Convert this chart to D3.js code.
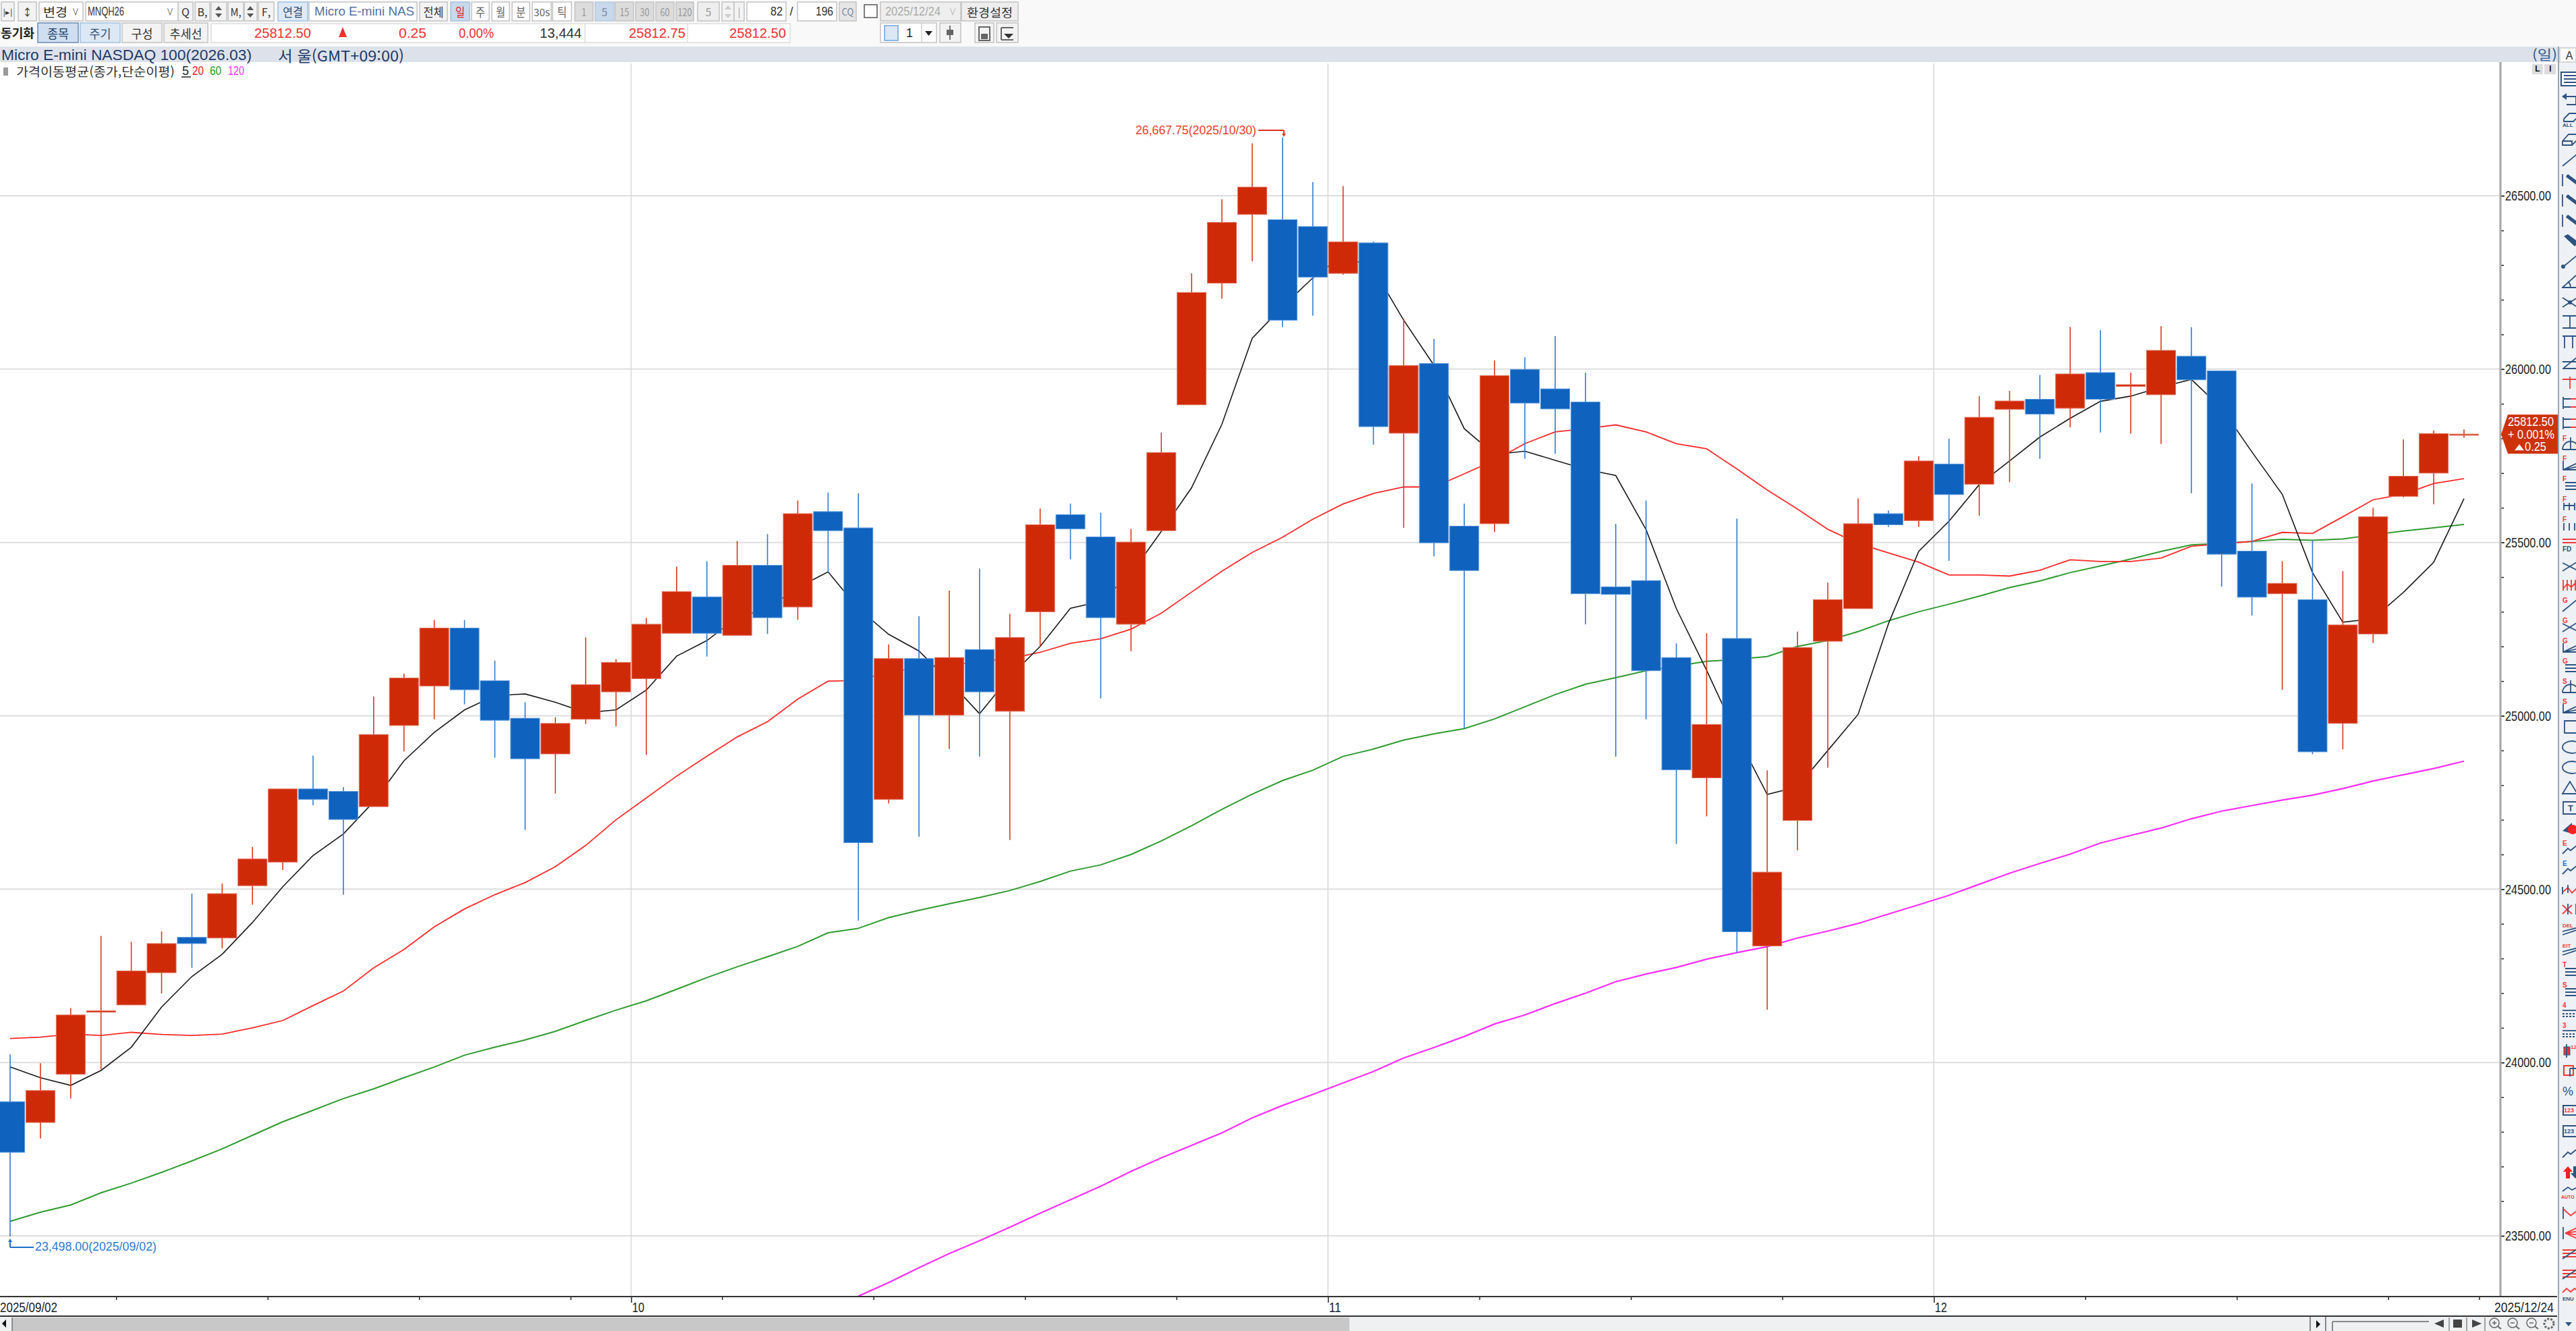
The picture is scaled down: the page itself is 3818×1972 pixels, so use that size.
<!DOCTYPE html>
<html lang="ko">
<head>
<meta charset="utf-8">
<title>Micro E-mini NASDAQ 100</title>
<script src="https://d3js.org/d3.v7.min.js"></script>
<style>
html,body{margin:0;padding:0;background:#fff;overflow:hidden}
svg{display:block}
text{font-family:"Liberation Sans","Noto Sans CJK KR",sans-serif}
.ko{font-family:"Noto Sans CJK KR","Liberation Sans",sans-serif}
</style>
</head>
<body>
<svg id="c" width="3818" height="1972" viewBox="0 0 3818 1972"></svg>
<script>
// ---------- chart data ----------
const opens  = [23887,23827,23966,24145,24166,24259,24361,24359,24510,24578,24789,24782,24738,24972,25086,25253,25101,24993,24890,24990,25069,25107,25238,25343,25232,25434,25314,25589,25542,
24759,25165,25002,25191,25013,25300,25580,25516,25264,25534,25897,26248,26446,26431,26411,26276,26364,25815,26016,25547,25554,25999,25943,25905,25372,25390,25168,24821,25223,24336,24698,25215,25309,25583,25563,25726,25668,25884,25913,25887,25990,25950,25926,26037,25995,25475,25352,25335,24978,25236,25633,25700,25809];
const highs  = [24023,23998,24157,24365,24348,24378,24487,24516,24622,24789,24885,24794,25056,25122,25276,25276,25159,25039,24996,25226,25163,25283,25430,25446,25504,25524,25621,25644,25642,
25206,25287,25361,25425,25294,25598,25612,25586,25539,25817,26276,26490,26651,26667.75,26539,26528,26368,26145,26087,25612,26025,26034,26095,25990,25554,25621,25209,25238,25569,24843,25243,25384,25627,25592,25749,25799,25922,25937,25983,26122,26112,25990,26124,26121,25995,25670,25446,25506,25417,25600,25797,25823,25826];
const lows   = [23498,23781,23896,23980,24166,24199,24273,24329,24455,24555,24742,24484,24738,24897,24990,25033,24879,24671,24776,24976,24970,24887,25238,25171,25232,25236,25277,25413,24409,
24747,24651,24904,24882,24642,25200,25451,25050,25186,25534,25897,26203,26311,26121,26154,26272,25782,25542,25460,24963,25530,25741,25756,25264,24882,24990,24630,24710,24316,24152,24612,24850,25309,25545,25545,25447,25577,25674,25741,25832,25817,25814,25784,25642,25373,25289,25075,24889,24903,25210,25630,25610,25802];
const closes = [23741,23919,24137,24149,24264,24343,24343,24487,24587,24789,24759,24701,24946,25109,25253,25075,24987,24876,24978,25090,25154,25264,25358,25238,25434,25283,25583,25534,24634,
25165,25002,25168,25069,25226,25551,25539,25283,25501,25759,26221,26423,26525,26141,26265,26367,25834,26010,25499,25419,25981,25902,25885,25352,25350,25130,24844,24975,24377,24549,25197,25335,25554,25551,25735,25638,25861,25908,25870,25986,25913,25955,26054,25969,25466,25342,25382,24896,25262,25574,25691,25814,25812.5];

const ma5 = [23987,23956,23934,23977,24044,24160,24248,24312,24404,24507,24597,24659,24752,24870,24952,25017,25058,25063,25039,25009,25017,25074,25172,25217,25284,25309,25370,25415,25309,
25235,25187,25100,25006,25113,25200,25310,25330,25410,25532,25658,25841,26089,26180,26263,26329,26289,26141,26011,25828,25754,25763,25737,25711,25693,25537,25309,25131,24943,24773,24795,24900,25004,25265,25474,25561,25667,25735,25804,25858,25907,25922,25948,25970,25887,25761,25639,25413,25270,25280,25356,25443,25626];
const ma20 = [24069,24073,24082,24078,24087,24081,24078,24082,24100,24121,24164,24206,24273,24326,24391,24443,24484,24519,24565,24626,24700,24763,24826,24883,24939,24983,25048,25100,25102,
25126,25139,25145,25157,25165,25183,25209,25222,25250,25296,25357,25417,25471,25515,25567,25611,25641,25660,25660,25698,25737,25785,25819,25828,25839,25819,25785,25770,25712,25651,25596,25538,25497,25470,25443,25406,25406,25403,25420,25450,25445,25445,25455,25489,25496,25503,25529,25526,25574,25623,25639,25670,25684];
const ma60 = [23542,23568,23589,23624,23652,23683,23716,23751,23790,23829,23862,23896,23924,23956,23987,24021,24044,24065,24090,24121,24151,24178,24211,24245,24276,24305,24335,24374,24387,
24418,24439,24458,24476,24496,24522,24552,24570,24600,24639,24683,24730,24774,24813,24843,24883,24904,24930,24948,24963,24991,25026,25061,25091,25110,25130,25143,25157,25163,25171,25200,25217,25243,25274,25300,25322,25345,25370,25389,25413,25432,25452,25474,25493,25497,25503,25509,25506,25510,25522,25533,25542,25552];
const ma120 = [null,null,null,null,null,null,null,null,null,null,null,null,null,null,null,null,null,null,null,null,null,null,null,null,null,null,null,null,23326,
23365,23408,23449,23486,23525,23565,23604,23643,23686,23725,23761,23797,23840,23876,23908,23941,23974,24013,24043,24075,24111,24137,24170,24200,24233,24255,24274,24298,24317,24334,24359,24379,24401,24428,24455,24482,24514,24546,24574,24601,24633,24655,24676,24703,24725,24741,24757,24771,24790,24812,24830,24848,24869];

const priceMajor = [26500,26000,25500,25000,24500,24000,23500];
const priceMinor = d3.range(23500,26501,100);
const weekTicks  = [3.5,8.5,13.5,18.5,23.5,28.5,33.5,38.5,48.5,53.5,58.5,68.5,73.5,78.5,81.5];
const monthTicks = [20.5,43.5,63.5];
const monthNames = ['10','11','12'];
const firstDate = '2025/09/02', lastDate = '2025/12/24';
const highNote = '26,667.75(2025/10/30)', lowNote = '23,498.00(2025/09/02)';
const lastTag = ['25812.50','+ 0.001%','0.25'];

// ---------- colours ----------
const RED='#cf2a08', REDL='#e0705a', BLUE='#0f62bd', BLUEL='#5c9ade', WICKR='#d6391a', WICKB='#2f7ad0';
const NAVY='#1f3a68', ICON='#2f5380', ICONR='#f03a3a';

// ---------- scales ----------
const W=3818,H=1972, chartTop=92, axisY=1921, axisX=3706;
const x = d3.scaleLinear().domain([0,81]).range([15,3652]);
const y = d3.scaleLinear().domain([23500,26500]).range([1831,290]);
const svg = d3.select('#c');
svg.append('rect').attr('width',W).attr('height',H).attr('fill','#fff');

// helper: text squeezed to a measured width
function T(p,str,x0,w,yc,size,fill,cls,anchor){
  const t=p.append('text').attr('x',x0).attr('y',yc).attr('dominant-baseline','central')
    .attr('font-size',size).attr('fill',fill).text(str);
  if(cls) t.attr('class',cls);
  if(anchor) t.attr('text-anchor',anchor);
  if(w) t.attr('textLength',w).attr('lengthAdjust','spacingAndGlyphs');
  return t;
}
function L(p,x1,y1,x2,y2,c,w){return p.append('line').attr('x1',x1).attr('y1',y1).attr('x2',x2).attr('y2',y2).attr('stroke',c).attr('stroke-width',w||1);}
function R(p,x0,y0,w,h,f,s,sw){return p.append('rect').attr('x',x0).attr('y',y0).attr('width',w).attr('height',h).attr('fill',f).attr('stroke',s||'none').attr('stroke-width',sw||1);}

// ---------- grid ----------
const grid=svg.append('g');
grid.selectAll('line.h').data(priceMajor).join('line').attr('class','h')
  .attr('x1',0).attr('x2',axisX).attr('y1',d=>y(d)).attr('y2',d=>y(d)).attr('stroke','#dedede').attr('stroke-width',2);
grid.selectAll('line.v').data(monthTicks).join('line').attr('class','v')
  .attr('x1',d=>x(d)).attr('x2',d=>x(d)).attr('y1',chartTop+2).attr('y2',axisY).attr('stroke','#d8d8d8').attr('stroke-width',1.5);

// ---------- moving averages (below candles) ----------
const idx=d3.range(opens.length);
const lineGen=arr=>d3.line().defined(i=>arr[i]!=null).x(i=>x(i)).y(i=>y(arr[i]))(idx);
[[ma120,'#ff2eff',2.2],[ma60,'#2f9a2f',2],[ma20,'#ff2a2a',1.8],[ma5,'#1a1a1a',1.6]].forEach(([a,c,w])=>{
  svg.append('path').attr('d',lineGen(a)).attr('fill','none').attr('stroke',c).attr('stroke-width',w);
});

// ---------- candles ----------
const bw=43;
const up=i=>closes[i]>=opens[i];
const cg=svg.append('g');
cg.selectAll('line.w').data(idx).join('line').attr('class','w')
  .attr('x1',i=>x(i)).attr('x2',i=>x(i)).attr('y1',i=>y(highs[i])).attr('y2',i=>y(lows[i]))
  .attr('stroke',i=>up(i)?WICKR:WICKB).attr('stroke-width',1.6);
cg.selectAll('rect.b').data(idx).join('rect').attr('class','b')
  .attr('x',i=>x(i)-bw/2).attr('width',bw)
  .attr('y',i=>y(Math.max(opens[i],closes[i])))
  .attr('height',i=>Math.abs(y(opens[i])-y(closes[i])))
  .attr('fill',i=>up(i)?RED:BLUE)
  .attr('stroke',i=>up(i)?REDL:BLUEL).attr('stroke-width',1);

// ---------- high / low notes ----------
const iHi=highs.indexOf(d3.max(highs)), iLo=lows.indexOf(d3.min(lows));
const hiG=svg.append('g');
T(hiG,highNote,1683,179,193,18,'#e8402a');
const hy=193;
L(hiG,1865,hy,x(iHi)+2,hy,'#d9331a',2);
L(hiG,x(iHi)+2,hy,x(iHi)+2,y(highs[iHi])-6,'#d9331a',2);
hiG.append('path').attr('d',`M${x(iHi)-1},${y(highs[iHi])-6}h6l-3,5z`).attr('fill','#d9331a');
const loG=svg.append('g');
T(loG,lowNote,52,180,1847,18,'#2f78d0');
L(loG,x(iLo),y(lows[iLo])+8,x(iLo),1848,'#1f6ec8',2);
L(loG,x(iLo),1848,50,1848,'#1f6ec8',2);
loG.append('path').attr('d',`M${x(iLo)-3},${y(lows[iLo])+8}h6l-3,-5z`).attr('fill','#1f6ec8');

// ---------- price axis ----------
const pa=svg.append('g').attr('transform',`translate(${axisX},0)`);
pa.call(d3.axisRight(y).tickValues(priceMinor).tickSize(5).tickFormat(''));
pa.select('.domain').remove();
pa.selectAll('.tick line').attr('stroke','#222').attr('stroke-width',1.5);
const pb=svg.append('g').attr('transform',`translate(${axisX},0)`);
pb.call(d3.axisRight(y).tickValues(priceMajor).tickSize(6).tickPadding(1).tickFormat(d3.format('.2f')));
pb.select('.domain').remove();
pb.selectAll('.tick line').attr('stroke','#222').attr('stroke-width',1.5);
pb.selectAll('.tick text').attr('x',7).attr('font-size',21).attr('font-family','Liberation Sans').attr('fill','#222')
  .attr('textLength',68).attr('lengthAdjust','spacingAndGlyphs');
L(svg,axisX,chartTop,axisX,axisY,'#a6a6a6',3);

// ---------- time axis ----------
const ta=svg.append('g').attr('transform',`translate(0,${axisY})`);
ta.call(d3.axisBottom(x).tickValues(weekTicks).tickSize(5).tickFormat(''));
ta.select('.domain').remove();
ta.selectAll('.tick line').attr('stroke','#222').attr('stroke-width',1.5);
const tb=svg.append('g').attr('transform',`translate(0,${axisY})`);
tb.call(d3.axisBottom(x).tickValues(monthTicks).tickSize(9).tickFormat((d,i)=>monthNames[i]));
tb.select('.domain').remove();
tb.selectAll('.tick line').attr('stroke','#222').attr('stroke-width',1.5);
tb.selectAll('.tick text').attr('text-anchor','start').attr('x',1).attr('y',15).attr('dy',null)
  .attr('dominant-baseline','central')
  .attr('font-size',21).attr('font-family','Liberation Sans').attr('fill','#222')
  .attr('textLength',18).attr('lengthAdjust','spacingAndGlyphs');
T(svg,firstDate,0,85,1936,21,'#222');
T(svg,lastDate,3697,88,1936,21,'#222');
L(svg,0,axisY,3790,axisY,'#333',2);
L(svg,0,1950,3790,1950,'#333',2);

// ---------- scrollbar ----------
R(svg,0,1951,3792,21,'#eef0f2');
R(svg,18,1952,1982,20,'#c8c8c8');
L(svg,18,1952,18,1972,'#777',1.5);
svg.append('path').attr('d','M3,1961l6,-6v12z').attr('fill','#111');
L(svg,3424,1951,3424,1972,'#666',1.5);
L(svg,3447,1951,3447,1972,'#666',1.5);
svg.append('path').attr('d','M3433,1956l6,6l-6,6z').attr('fill','#111');
L(svg,3457,1958,3600,1958,'#888',2);
L(svg,3457,1958,3457,1972,'#888',2);
L(svg,3630,1952,3630,1972,'#888',1.5);L(svg,3656,1952,3656,1972,'#888',1.5);L(svg,3683,1952,3683,1972,'#888',1.5);
svg.append('path').attr('d','M3608,1961l14,-6v12z').attr('fill','#444');
R(svg,3636,1955,13,12,'#444');
svg.append('path').attr('d','M3664,1955l14,6l-14,6z').attr('fill','#444');
[3697,3724,3752].forEach((cx,i)=>{
  const g=svg.append('g');
  g.append('circle').attr('cx',cx).attr('cy',1960).attr('r',7).attr('fill','none').attr('stroke','#666').attr('stroke-width',1.5);
  L(g,cx+5,1965,cx+10,1969,'#666',2);
  L(g,cx-3,1960,cx+3,1960,'#666',1.5);
  if(i==0)L(g,cx,1957,cx,1963,'#666',1.5);
});
svg.append('circle').attr('cx',3778).attr('cy',1961).attr('r',7).attr('fill','none').attr('stroke','#666').attr('stroke-width',3).attr('stroke-dasharray','3 2');

// ---------- top toolbar ----------
R(svg,0,0,W,69,'#f9f9f9');
function btn(x0,x1,y0,y1,label,o){
  o=o||{};
  const g=svg.append('g');
  R(g,x0,y0,x1-x0,y1-y0,o.bg||'#f3f3f3',o.border||'#c2c2c2',o.bw||1.5);
  if(label) T(g,label,(x0+x1)/2,o.tw||null,(y0+y1)/2,o.size||18,o.color||'#333','ko','middle');
  return g;
}
const r1=[3,31];
btn(2,21,r1[0],r1[1],'|▸|',{size:11,tw:14});
btn(27,54,r1[0],r1[1],'↕',{size:15});
btn(58,123,r1[0],r1[1],'',{bg:'#fff'});T(svg,'변경',64,36,17,18,'#333','ko');T(svg,'∨',112,10,17,14,'#444',null,'middle');
btn(127,264,r1[0],r1[1],'',{bg:'#fff'});T(svg,'MNQH26',130,54,17,18,'#333');T(svg,'∨',252,10,17,14,'#444',null,'middle');
btn(264,286,r1[0],r1[1],'Q',{size:16});
btn(289,311,r1[0],r1[1],'B,',{size:16});
btn(313,336,r1[0],r1[1],'');
svg.append('path').attr('d','M324,9l5,6h-10zM324,26l5,-6h-10z').attr('fill','#555');
btn(338,361,r1[0],r1[1],'M,',{size:16,tw:16});
btn(362,381,r1[0],r1[1],'');
svg.append('path').attr('d','M371,9l5,6h-10zM371,26l5,-6h-10z').attr('fill','#555');
btn(383,406,r1[0],r1[1],'F,',{size:16});
btn(412,456,r1[0],r1[1],'연결',{bg:'#dfeaf6',border:'#9cc0e4',size:18,tw:30,color:'#30507a'});
btn(458,618,r1[0],r1[1],'',{bg:'#fff'});T(svg,'Micro E-mini NAS',466,148,17,18,'#5470a0');
btn(622,663,r1[0],r1[1],'전체',{size:18,tw:30});
btn(668,696,r1[0],r1[1],'일',{bg:'#c9d9ec',border:'#a8bfd8',color:'#e02020',size:18,tw:14});
[[699,725,'주'],[729,755,'월'],[759,785,'분'],[819,847,'틱']].forEach(b=>btn(b[0],b[1],r1[0],r1[1],b[2],{bg:'#fff',size:18,tw:14,color:'#666'}));
btn(789,817,r1[0],r1[1],'30s',{bg:'#fff',size:15,tw:24,color:'#666'});
[[852,879,'1'],[912,939,'15'],[942,969,'30'],[972,999,'60'],[1002,1028,'120']].forEach(b=>btn(b[0],b[1],r1[0],r1[1],b[2],{bg:'#dcdcdc',size:16,tw:b[2].length*7,color:'#999'}));
btn(882,910,r1[0],r1[1],'5',{bg:'#c9d9ec',border:'#b8c8da',size:16,color:'#7a8aa0'});
btn(1034,1066,r1[0],r1[1],'5',{bg:'#eee',size:16,color:'#999'});
btn(1070,1088,r1[0],r1[1],'');
svg.append('path').attr('d','M1079,8l5,6h-10zM1079,27l5,-6h-10z').attr('fill','#ccc');
btn(1088,1103,r1[0],r1[1],'|',{size:14,color:'#999'});
btn(1107,1165,r1[0],r1[1],'',{bg:'#fff'});T(svg,'82',1160,18,17,18,'#333',null,'end');
T(svg,'/',1173,null,17,18,'#333',null,'middle');
btn(1182,1240,r1[0],r1[1],'',{bg:'#fff'});T(svg,'196',1235,26,17,18,'#333',null,'end');
btn(1244,1269,r1[0],r1[1],'CQ',{size:14,tw:18,color:'#7a8aa0',bg:'#e6e6e6'});
R(svg,1281,7,19,19,'#fff','#555',1.5);
btn(1305,1424,r1[0],r1[1],'',{bg:'#eee'});T(svg,'2025/12/24',1312,82,17,18,'#aaa');T(svg,'∨',1412,10,17,14,'#aaa',null,'middle');
btn(1425,1509,r1[0],r1[1],'환경설정',{size:17,tw:68,bg:'#eee'});

const r2=[34,63];
T(svg,'동기화',1,50,48,18,'#222','ko').attr('font-weight','bold');
btn(56,116,r2[0],r2[1],'종목',{bg:'#cfdff0',border:'#6a8cb4',size:18,tw:32,color:'#22406a'});
btn(119,178,r2[0],r2[1],'주기',{bg:'#dce8f5',border:'#a4c2e2',size:18,tw:32,color:'#30507a'});
btn(181,240,r2[0],r2[1],'구성',{size:18,tw:32});
btn(243,308,r2[0],r2[1],'추세선',{size:18,tw:48});
R(svg,313,35,858,28,'#fff','#ddd',1.5);
L(svg,867,35,867,63,'#ddd',1.5);L(svg,1019,35,1019,63,'#ddd',1.5);
T(svg,'25812.50',461,84,49,20,'#f03030',null,'end');
svg.append('path').attr('d','M508,40l6,15h-12z').attr('fill','#f03030');
T(svg,'0.25',632,41,49,20,'#f03030',null,'end');
T(svg,'0.00%',732,52,49,20,'#f03030',null,'end');
T(svg,'13,444',862,62,49,20,'#333',null,'end');
T(svg,'25812.75',1016,84,49,20,'#f03030',null,'end');
T(svg,'25812.50',1165,84,49,20,'#f03030',null,'end');
btn(1305,1388,34,63,'',{bg:'#fff'});
R(svg,1311,38,20,22,'#dbe7f4','#6fa5dc',1.5);
T(svg,'1',1348,null,49,18,'#222',null,'middle');
L(svg,1366,34,1366,63,'#bbb',1);
svg.append('path').attr('d','M1371,46h11l-5.5,7z').attr('fill','#222');
btn(1393,1424,34,63,'');L(svg,1408,38,1408,59,'#444',1.5);R(svg,1403,44,10,8,'#666');
btn(1445,1473,34,63,'');R(svg,1451,40,16,20,'none','#666',2);R(svg,1454,50,10,8,'#666');
btn(1477,1509,34,63,'');L(svg,1484,41,1502,41,'#666',2);L(svg,1484,59,1502,59,'#666',2);L(svg,1484,41,1484,59,'#666',2);svg.append('path').attr('d','M1488,50h14l-7,7z').attr('fill','#333');

// ---------- title bar ----------
R(svg,0,69,3792,23,'#dde2ea');
T(svg,'Micro E-mini NASDAQ 100(2026.03)',2,371,81,22,NAVY);
T(svg,'서 울(GMT+09:00)',412,187,81,22,NAVY,'ko');
T(svg,'(일)',3753,37,80,20,'#2f5a96','ko');
R(svg,3753,95,16,15,'#dcdcdc');T(svg,'L',3761,null,102,12,'#111',null,'middle').attr('font-weight','bold');
R(svg,3771,95,17,15,'#dcdcdc');T(svg,'I',3780,null,102,12,'#111',null,'middle').attr('font-weight','bold');

// ---------- legend ----------
R(svg,5,100,7,12,'#9a9a9a');
T(svg,'가격이동평균(종가,단순이평)',24,235,105,18,'#333','ko');
T(svg,'5',270,null,105,18,'#222');L(svg,269,114,283,114,'#222',1.5);
T(svg,'20',285,17,105,18,'#f02020');
T(svg,'60',311,17,105,18,'#1a9a1a');
T(svg,'120',338,24,105,18,'#ff2eff');

// ---------- last price tag ----------
const ly=y(closes[closes.length-1]);
svg.append('path').attr('d',`M3707,${ly}L3717,${ly-29}H3792V${ly+29}H3717Z`).attr('fill','#cc3308');
T(svg,lastTag[0],3717,68,ly-19,19,'#fff');
T(svg,lastTag[1],3717,69,ly,19,'#fff');
svg.append('path').attr('d',`M3727,${ly+24}l7,-9l7,9z`).attr('fill','#fff');
T(svg,lastTag[2],3742,32,ly+18,19,'#fff');

// ---------- drawing-tools panel ----------
R(svg,3792,69,26,1903,'#eef1f6');
L(svg,3792,69,3792,1972,'#9aa4b2',2);
R(svg,3794,71,24,21,'#fbfbfb','#bbb',1);
T(svg,'A',3808,null,82,16,'#333',null,'middle');
const tools=['list','undo','eraseAll','erase','line','pen','pen','pen','penD','dot','angle','cross','ibeam','tt','par','arR','arB','arB',
 'F:fan','F:ang','F:lines','F:h','F:bars','fd','x','zigR','G:line','G:x','G:ang','G:lines','S:fan','S:ang','rect','oval','oval','tri','tbox','blob',
 'E:zig','Eb:zig','zzR','zzB','DEL','EIT','T:lines','S:lines','4:dash','3:dash','candle','rectR','pct','n123R','n123B','zig','updown','AUTO','mR','fanR','linesR','linesR','ENU'];
const ig=svg.append('g').attr('fill','none').attr('stroke-width',1.8);
tools.forEach((k,i)=>{
  const g=ig.append('g').attr('transform',`translate(3798,${117+30*i})`).attr('stroke',ICON);
  const p=(d,c)=>g.append('path').attr('d',d).attr('stroke',c||ICON);
  const lab=(s,c,sz,xx,yy)=>T(g,s,xx==null?0:xx,null,yy==null?-8:yy,sz||10,c||ICONR).attr('stroke','none').attr('font-weight','bold');
  let kind=k; 
  if(k.includes(':')){const a=k.split(':');lab(a[0]=='Eb'?'E':a[0],a[0]=='Eb'?'#1e6fd0':ICONR);kind=a[1];}
  switch(kind){
    case 'list':R(g,-2,-10,26,20,'#fff',ICON,2);p('M2,-5H24M2,0H24M2,5H24');break;
    case 'undo':p('M4,-4H20V8H6');g.append('path').attr('d','M-1,-4l7,-5v10z').attr('fill',ICON).attr('stroke','none');break;
    case 'eraseAll':p('M2,-1L10,-9H24M2,-1V3H16L24,-5');lab('ALL',ICON,8,0,8);break;
    case 'erase':p('M0,2L9,-8H24M0,2V8H14L24,-2M0,2H14V8');break;
    case 'line':p('M0,9L22,-9');break;
    case 'pen':p('M0,-9V9');p('M6,-7L22,5',ICON);g.append('path').attr('d','M8,-9L24,3L21,7L5,-5z').attr('fill',ICON).attr('stroke','none');break;
    case 'penD':g.append('path').attr('d','M2,-7L8,-10L24,2L18,8z').attr('fill',ICON).attr('stroke','none');break;
    case 'dot':p('M0,9L22,-9');g.append('circle').attr('cx',1).attr('cy',8).attr('r',3).attr('fill',ICON).attr('stroke','none');break;
    case 'angle':p('M-1,9H24M0,9L20,-9M12,9A12,12 0 0 0 8,0');break;
    case 'cross':p('M0,-6L22,8M0,8L22,-6');g.append('circle').attr('cx',11).attr('cy',1).attr('r',3).attr('fill',ICON).attr('stroke','none');break;
    case 'ibeam':p('M0,-9H22M0,9H22M11,-9V9');break;
    case 'tt':p('M0,-9H24M3,-9V9M15,-9V9');break;
    case 'par':p('M0,9H24M0,-1H24M2,8L22,-8');break;
    case 'arR':p('M0,-5H24M11,-9V9',ICONR);break;
    case 'arB':p('M1,-9V9M1,-6H24M1,6H24');p('M12,-6H24M12,6H24',ICONR);break;
    case 'fan':p('M0,9A12,12 0 0 1 24,9M12,-9V9M0,9H24');break;
    case 'ang':p('M1,-4V9H24M1,9L24,-2M1,9L24,4');break;
    case 'lines':p('M4,-2H24M4,3H24M4,8H24');break;
    case 'h':p('M2,9V-2M10,9V-2M18,9V-2M2,2H18');break;
    case 'bars':p('M2,9V-2M10,9V-2M18,9V-2');break;
    case 'fd':lab('FD',ICON,10,0,6);p('M0,-8H24M0,-3H24',ICONR);break;
    case 'x':p('M0,9L24,-6M0,-3L24,9');break;
    case 'zigR':p('M1,-8V8M7,-8V8M13,-8V8M19,-8V8M1,5L7,-2L13,3L19,-3L24,1',ICONR);break;
    case 'zig':p('M0,8L8,0L12,3L22,-5');break;
    case 'rect':p('M3,-9H22V9H3z');break;
    case 'oval':g.append('ellipse').attr('cx',14).attr('cy',0).attr('rx',14).attr('ry',9);break;
    case 'tri':p('M0,9L11,-9L22,9z');break;
    case 'tbox':p('M1,-9H24V9H1z');lab('T',ICON,13,8,0);break;
    case 'blob':g.append('path').attr('d','M0,4L14,-8V8z').attr('fill',ICON).attr('stroke','none');g.append('circle').attr('cx',15).attr('cy',2).attr('r',7).attr('fill','#f22').attr('stroke','none');break;
    case 'zzR':p('M0,5L8,-2L14,6L22,-2',ICONR);p('M0,-3V8M8,-6V6');break;
    case 'zzB':p('M0,-6L14,7M0,7L14,-6',ICONR);p('M8,-8V8M20,-8V8');break;
    case 'DEL':lab('DEL',ICONR,8,0,-6);p('M0,8L24,0M0,3L24,-3');break;
    case 'EIT':lab('EIT',ICONR,8,0,-6);p('M0,8L24,0M0,3L24,-3');break;
    case 'dash':p('M0,0H24');g.append('path').attr('d','M0,5H24M0,9H24').attr('stroke',ICON).attr('stroke-dasharray','3 2');break;
    case 'candle':R(g,2,-6,9,12,'#f33',ICON,1);p('M6,-10V10');lab('12',ICONR,8,12,-6);break;
    case 'rectR':R(g,2,-8,14,14,'none',ICONR,2);p('M11,-4H24M11,-4V8');break;
    case 'pct':lab('%',ICON,18,0,0).attr('font-weight','normal');break;
    case 'n123R':R(g,1,-9,24,14,'none',ICON,2);lab('123',ICONR,9,2,-2);break;
    case 'n123B':R(g,1,-9,24,16,'none',ICON,2);lab('123',ICON,9,2,-1);break;
    case 'updown':g.append('path').attr('d','M8,-9L15,-1H11V9H5V-1H1z').attr('fill','#ee2222').attr('stroke','none');g.append('path').attr('d','M19,9L26,1H22V-9H16V1H12z').attr('fill',ICON).attr('stroke','none');break;
    case 'AUTO':lab('AUTO',ICONR,7,-2,6);p('M0,-2L8,-8L14,-4L24,-9');break;
    case 'mR':p('M1,-9V9');p('M1,-6L12,4L24,-5',ICONR);break;
    case 'fanR':p('M1,-9V9');p('M4,0L24,-9M4,0L24,-3M4,0L24,3M4,0L24,9',ICONR);break;
    case 'linesR':p('M0,-5H24M0,0H24M0,5H24',ICONR);p('M0,8L24,-8');break;
    case 'ENU':lab('ENU',ICON,8,0,7);p('M0,-2L6,-8L12,-3L18,-8L24,-3',ICONR);break;
  }
});
ig.append('path').attr('d','M3802,1959h10l-5,6z').attr('fill','#2f5380').attr('stroke','none');
</script>
</body>
</html>
